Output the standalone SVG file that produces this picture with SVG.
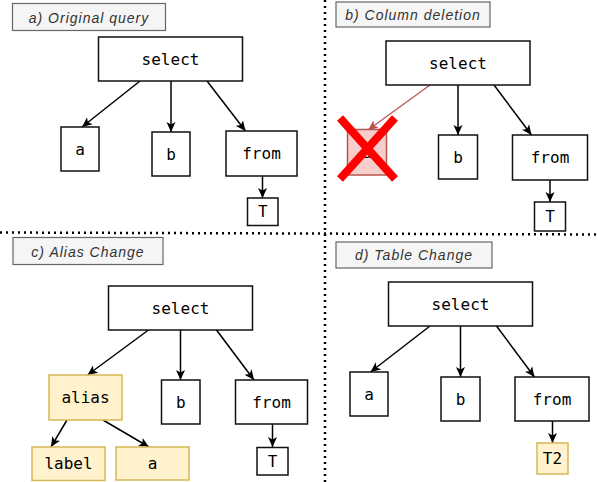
<svg xmlns="http://www.w3.org/2000/svg" width="598" height="482" viewBox="0 0 598 482">
<defs>
<marker id="arr" markerWidth="10" markerHeight="10" refX="10" refY="4.5" orient="auto" markerUnits="userSpaceOnUse" viewBox="0 0 10 9">
<path d="M0,0 L10,4.5 L0,9 L2.5,4.5 z" fill="#000"/>
</marker>
<marker id="arrRed" markerWidth="10" markerHeight="10" refX="10" refY="4.5" orient="auto" markerUnits="userSpaceOnUse" viewBox="0 0 10 9">
<path d="M0,0 L10,4.5 L0,9 L2.5,4.5 z" fill="#b85450"/>
</marker>
<style>
.n{fill:#fff;stroke:#111;stroke-width:1.5}
.y{fill:#fff2cc;stroke:#d6b656;stroke-width:1.5}
.del{fill:#f8cecc;stroke:#b85450;stroke-width:1.5}
.t{font-family:"DejaVu Sans Mono","Liberation Mono",monospace;font-size:16px;fill:#000;text-anchor:middle}
.lb{fill:#f5f5f5;stroke:#666;stroke-width:1.2}
.lt{font-family:"Liberation Sans",Arial,sans-serif;font-style:italic;font-size:14px;fill:#333;text-anchor:middle;letter-spacing:1px}
.e{stroke:#000;stroke-width:1.5;fill:none;marker-end:url(#arr)}
.er{stroke:#b85450;stroke-width:1.2;fill:none;marker-end:url(#arrRed)}
.sep{stroke:#000;stroke-width:2.5;stroke-dasharray:2 4;fill:none}
</style>
</defs>

<g id="separators">
<line class="sep" x1="325" y1="0" x2="325" y2="482"/>
<line class="sep" x1="0" y1="232.5" x2="598" y2="234.5"/>
</g>

<g id="connectors">
<!-- a -->
<line class="e" x1="140" y1="81" x2="82" y2="127"/>
<line class="e" x1="171" y1="81" x2="171" y2="132"/>
<line class="e" x1="207" y1="81" x2="245.5" y2="131"/>
<line class="e" x1="262.5" y1="176" x2="262.5" y2="198"/>
<!-- b -->
<line class="er" x1="430" y1="85" x2="368" y2="130"/>
<line class="e" x1="458" y1="85" x2="458" y2="135"/>
<line class="e" x1="494" y1="85" x2="531.5" y2="135"/>
<line class="e" x1="550" y1="180" x2="550" y2="202"/>
<!-- c -->
<line class="e" x1="148.5" y1="330" x2="87.5" y2="375"/>
<line class="e" x1="180.5" y1="330" x2="180.5" y2="380"/>
<line class="e" x1="216.5" y1="330" x2="254" y2="380"/>
<line class="e" x1="67" y1="420" x2="51" y2="447"/>
<line class="e" x1="103" y1="420" x2="149" y2="447"/>
<line class="e" x1="272.5" y1="424" x2="272.5" y2="447"/>
<!-- d -->
<line class="e" x1="430" y1="326" x2="370.5" y2="372"/>
<line class="e" x1="460.5" y1="326" x2="460.5" y2="377"/>
<line class="e" x1="496.5" y1="326" x2="534.5" y2="377"/>
<line class="e" x1="552.5" y1="421" x2="552.5" y2="443"/>
</g>

<!-- Panel a -->
<g id="label-a"><rect class="lb" x="12.5" y="3.5" width="153" height="27"/><text class="lt" x="89" y="23">a) Original query</text></g>
<g id="a-select"><rect class="n" x="98.5" y="37" width="144" height="44"/><text class="t" x="170.5" y="64.5">select</text></g>
<g id="a-a"><rect class="n" x="61" y="127" width="38" height="44"/><text class="t" x="80" y="154.5">a</text></g>
<g id="a-b"><rect class="n" x="152" y="132" width="38" height="44"/><text class="t" x="171" y="159.5">b</text></g>
<g id="a-from"><rect class="n" x="226" y="131" width="71" height="45"/><text class="t" x="261.5" y="159">from</text></g>
<g id="a-T"><rect class="n" x="247.5" y="198" width="30.5" height="27.5"/><text class="t" x="262.75" y="217">T</text></g>

<!-- Panel b -->
<g id="label-b"><rect class="lb" x="336" y="2" width="154" height="25"/><text class="lt" x="413" y="20">b) Column deletion</text></g>
<g id="b-select"><rect class="n" x="386" y="41" width="144" height="44"/><text class="t" x="458" y="68.5">select</text></g>
<g id="b-a-deleted"><rect class="del" x="347.5" y="129.5" width="39" height="45.5"/><text class="t" x="367" y="157.5">a</text>
<line x1="340" y1="118" x2="395" y2="179" stroke="#ff0000" stroke-width="8"/>
<line x1="395" y1="118" x2="340" y2="179" stroke="#ff0000" stroke-width="8"/></g>
<g id="b-b"><rect class="n" x="438.5" y="135" width="39" height="44"/><text class="t" x="458" y="162.5">b</text></g>
<g id="b-from"><rect class="n" x="512.5" y="135" width="75" height="45"/><text class="t" x="550" y="163">from</text></g>
<g id="b-T"><rect class="n" x="534.5" y="202" width="31" height="29"/><text class="t" x="550" y="222">T</text></g>

<!-- Panel c -->
<g id="label-c"><rect class="lb" x="13" y="237.5" width="150" height="27"/><text class="lt" x="88" y="256.5">c) Alias Change</text></g>
<g id="c-select"><rect class="n" x="108.5" y="286" width="144" height="44"/><text class="t" x="180.5" y="313.5">select</text></g>
<g id="c-alias"><rect class="y" x="49" y="375" width="73" height="45"/><text class="t" x="85.5" y="403">alias</text></g>
<g id="c-b"><rect class="n" x="161.5" y="380" width="38.5" height="44"/><text class="t" x="180.75" y="407.5">b</text></g>
<g id="c-from"><rect class="n" x="235.5" y="380" width="72" height="44"/><text class="t" x="271.5" y="407.5">from</text></g>
<g id="c-label"><rect class="y" x="32" y="447" width="73" height="33.5"/><text class="t" x="68.5" y="469">label</text></g>
<g id="c-a"><rect class="y" x="116" y="447" width="73" height="33"/><text class="t" x="152.5" y="469">a</text></g>
<g id="c-T"><rect class="n" x="257" y="447.5" width="31" height="27.5"/><text class="t" x="272.5" y="466.5">T</text></g>

<!-- Panel d -->
<g id="label-d"><rect class="lb" x="336" y="242" width="156" height="26"/><text class="lt" x="414" y="259.5">d) Table Change</text></g>
<g id="d-select"><rect class="n" x="388.5" y="282" width="144" height="44"/><text class="t" x="460.5" y="309.5">select</text></g>
<g id="d-a"><rect class="n" x="350" y="372" width="38" height="44"/><text class="t" x="369" y="399.5">a</text></g>
<g id="d-b"><rect class="n" x="441" y="377" width="39" height="44"/><text class="t" x="460.5" y="404.5">b</text></g>
<g id="d-from"><rect class="n" x="515" y="377" width="74" height="44"/><text class="t" x="552" y="404.5">from</text></g>
<g id="d-T2"><rect class="y" x="537" y="443" width="31" height="31"/><text class="t" x="552.5" y="464">T2</text></g>
</svg>
